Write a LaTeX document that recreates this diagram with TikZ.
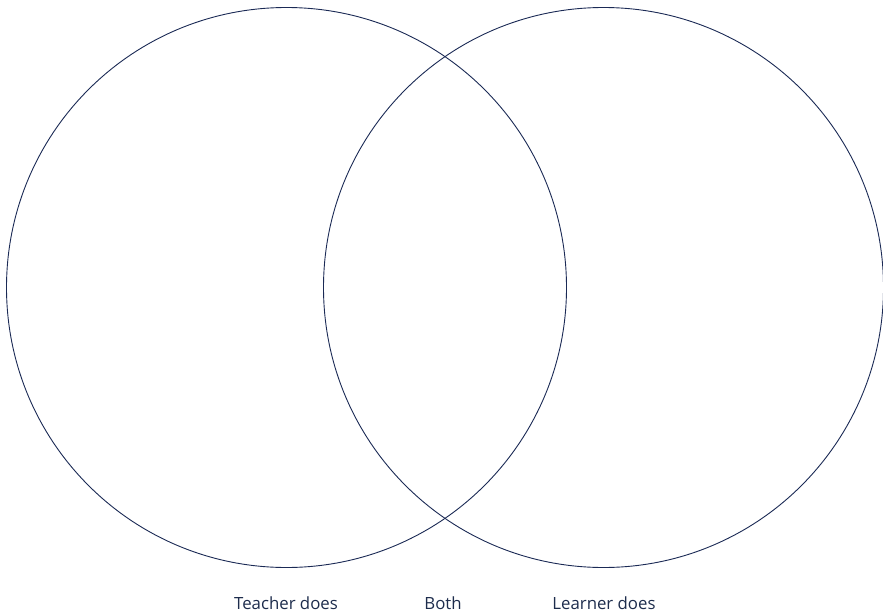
\documentclass[tikz,border=0pt]{standalone}
\usepackage{fontspec}
\setmainfont{Open Sans}
\usepackage{tikz}
\usetikzlibrary{positioning}
\definecolor{navy}{HTML}{1B2A55}
\definecolor{labeltext}{HTML}{1D2C4C}

\begin{document}
\begin{tikzpicture}[x=1pt, y=-1pt, line width=0.9pt,
  ring/.style={draw=navy, circle, minimum size=560pt, inner sep=0pt},
  caption/.style={text=labeltext, font=\fontsize{16.8}{20}\selectfont, inner sep=0pt, anchor=base}]
\useasboundingbox (0,0) rectangle (883,615);
\node[ring] (teacher) at (286.5,287.5) {};
\node[ring] (learner) at (603.5,287.5) {};
\node[caption] (tlabel) at (286,609) {Teacher does};
\node[caption] (blabel) at (443,609) {Both};
\node[caption] (llabel) at (604,609) {Learner does};
\end{tikzpicture}
\end{document}
